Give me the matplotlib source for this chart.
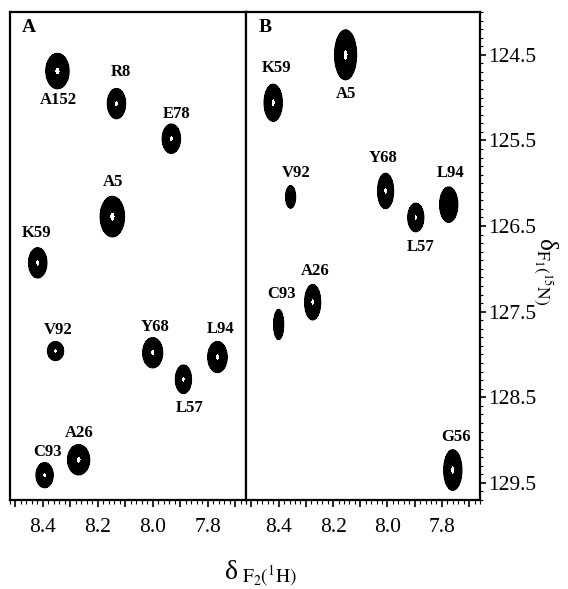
import numpy as np
import matplotlib
matplotlib.use("Agg")
import matplotlib.pyplot as plt
from matplotlib.ticker import MultipleLocator, FuncFormatter

plt.rcParams['font.family'] = ['Liberation Serif', 'DejaVu Serif']
plt.rcParams['mathtext.fontset'] = 'stix'

# panel A peaks: 1H shift, 15N shift, outer half widths (ppm), height
names_a = ["A152", "R8", "E78", "A5", "K59", "V92", "Y68", "L57", "L94", "A26", "C93"]
h_a = [8.347, 8.132, 7.932, 8.147, 8.419, 8.354, 8.000, 7.888, 7.764, 8.270, 8.394]
n_a = [124.69, 125.07, 125.48, 126.39, 126.93, 127.96, 127.98, 128.29, 128.03, 129.23, 129.41]
wh_a = [0.042, 0.033, 0.033, 0.044, 0.033, 0.029, 0.036, 0.029, 0.035, 0.040, 0.031]
wn_a = [0.205, 0.175, 0.17, 0.235, 0.175, 0.11, 0.175, 0.165, 0.18, 0.175, 0.145]
amp_a = [1, 1, 1, 1, 1, 1, 1, 1, 1, 1, 1]
lab_h_a = [8.343, 8.117, 7.914, 8.146, 8.423, 8.346, 7.990, 7.867, 7.754, 8.266, 8.383]
lab_n_a = [125.03, 124.70, 125.19, 125.98, 126.58, 127.71, 127.68, 128.62, 127.70, 128.92, 129.14]

# panel B peaks
names_b = ["A5", "K59", "V92", "Y68", "L57", "L94", "A26", "C93", "G56"]
h_b = [8.154, 8.420, 8.356, 8.007, 7.896, 7.775, 8.275, 8.400, 7.760]
n_b = [124.50, 125.06, 126.16, 126.09, 126.40, 126.25, 127.39, 127.65, 129.35]
wh_b = [0.040, 0.033, 0.018, 0.029, 0.029, 0.033, 0.029, 0.018, 0.033]
wn_b = [0.29, 0.215, 0.13, 0.205, 0.165, 0.205, 0.205, 0.175, 0.235]
amp_b = [1, 1, 0.3, 1, 1, 0.8, 1, 0.35, 1]
lab_h_b = [8.154, 8.407, 8.334, 8.018, 7.878, 7.768, 8.264, 8.389, 7.749]
lab_n_b = [124.96, 124.65, 125.88, 125.71, 126.75, 125.88, 127.03, 127.29, 128.96]

xlim = (8.52, 7.66)
ylim = (129.7, 124.0)
base = 0.08

gx = np.linspace(7.6, 8.6, 500)
gy = np.linspace(123.8, 130.0, 900)
X, Y = np.meshgrid(gx, gy)


def spectrum(hs, ns, whs, wns, amps):
    z = np.zeros_like(X)
    for h, n, wh, wn, a in zip(hs, ns, whs, wns, amps):
        k = np.sqrt(2 * np.log(a / base))
        sx, sy = wh / k, wn / k
        z += a * np.exp(-0.5 * (((X - h) / sx) ** 2 + ((Y - n) / sy) ** 2))
    return z


fig = plt.figure(figsize=(5.68, 5.89), dpi=100)
ax_a = fig.add_axes([10 / 568, 1 - 500 / 589, 236 / 568, 488 / 589])
ax_b = fig.add_axes([246 / 568, 1 - 500 / 589, 234 / 568, 488 / 589])

panels = [
    (ax_a, "A", names_a, h_a, n_a, wh_a, wn_a, amp_a, lab_h_a, lab_n_a),
    (ax_b, "B", names_b, h_b, n_b, wh_b, wn_b, amp_b, lab_h_b, lab_n_b),
]

for ax, letter, names, hs, ns, whs, wns, amps, lh, ln in panels:
    z = spectrum(hs, ns, whs, wns, amps)
    ax.contourf(X, Y, z, levels=[base, 0.88], colors=['black'])
    ax.contour(X, Y, z, levels=[base], colors='black', linewidths=1.0)
    for name, x, y in zip(names, lh, ln):
        ax.text(x, y, name, ha='center', va='center', fontsize=12, fontweight='bold')
    ax.text(0.08, 0.968, letter, transform=ax.transAxes, ha='center', va='center',
            fontsize=14, fontweight='bold')
    ax.set_xlim(*xlim)
    ax.set_ylim(*ylim)
    ax.xaxis.set_major_locator(MultipleLocator(0.1))
    ax.xaxis.set_minor_locator(MultipleLocator(0.02))
    ax.xaxis.set_major_formatter(FuncFormatter(
        lambda v, p: "%.1f" % v if abs(round(v * 10)) % 2 == 0 else ""))
    ax.tick_params(axis='x', which='major', direction='out', length=5, width=1.2,
                   labelsize=15.5, pad=8)
    ax.tick_params(axis='x', which='minor', direction='out', length=3, width=0.8)
    for s in ax.spines.values():
        s.set_linewidth(1.6)

ax_a.set_yticks([])
ax_b.yaxis.tick_right()
ax_b.set_yticks(np.arange(124.5, 130, 1.0))
ax_b.yaxis.set_minor_locator(MultipleLocator(0.1))
ax_b.tick_params(axis='y', which='major', direction='out', length=4, width=1.2,
                 labelsize=15.5, pad=2)
ax_b.tick_params(axis='y', which='minor', direction='out', length=2.5, width=0.8)
ax_b.tick_params(axis='y', which='both', left=False, right=True)

fig.text(0.458, 0.025, 'δ$_{\\ \\mathrm{F_2(^1H)}}$', fontsize=20, ha='center', va='center')
fig.text(0.962, 0.54, 'δ$_{\\mathrm{F_1(^{15}N)}}$', fontsize=18, ha='center', va='center',
         rotation=270)

fig.savefig("out.png", dpi=100)
